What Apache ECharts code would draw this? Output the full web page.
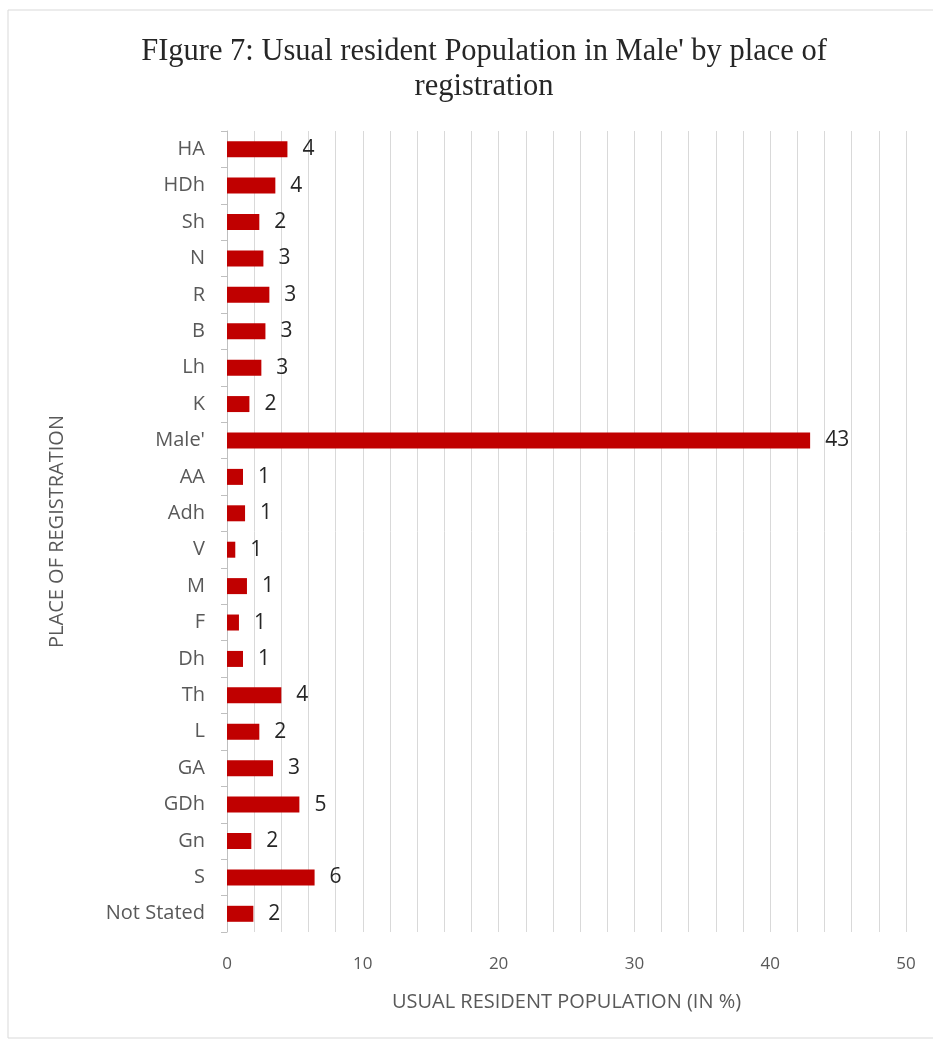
<!DOCTYPE html>
<html>
<head>
<meta charset="utf-8">
<script src="https://cdn.jsdelivr.net/npm/echarts@6/dist/echarts.min.js"></script>
<style>html,body{margin:0;padding:0;background:#fff}#c{width:933px;height:1041px}</style>
</head>
<body>
<div id="c"></div>
<script>
const categories = ["HA","HDh","Sh","N","R","B","Lh","K","Male'","AA","Adh","V","M","F","Dh","Th","L","GA","GDh","Gn","S","Not Stated"];
const values = [4.45,3.56,2.38,2.68,3.12,2.83,2.53,1.65,42.94,1.18,1.33,0.61,1.47,0.88,1.18,4.0,2.38,3.39,5.33,1.79,6.45,1.94];
const xTicks = [0,10,20,30,40,50];

const chart = echarts.init(document.getElementById('c'));
chart.setOption({
  animation:false,
  backgroundColor:'#fff',
  graphic:[{type:'rect',shape:{x:8,y:10,width:930,height:1028},style:{fill:'none',stroke:'#d9d9d9',lineWidth:1},silent:true}],
  title:{
    text:"FIgure 7: Usual resident Population in Male' by place of\nregistration",
    left:479, top:29, textAlign:'center',
    textStyle:{fontFamily:'Liberation Serif',fontSize:30.5,fontWeight:'normal',color:'#262626',lineHeight:35}
  },
  grid:{left:227,right:27,top:131,bottom:109,containLabel:false},
  xAxis:{
    type:'value',min:xTicks[0],max:xTicks[xTicks.length-1],interval:2,
    axisLine:{show:false},axisTick:{show:false},
    splitLine:{show:true,lineStyle:{color:'#d9d9d9',width:1}},
    axisLabel:{color:'#595959',fontSize:17,fontFamily:'Open Sans',margin:24,
      formatter:v=>xTicks.indexOf(v)>=0?String(v):''},
    name:'USUAL RESIDENT POPULATION (IN %)',nameLocation:'middle',nameGap:60,
    nameTextStyle:{color:'#595959',fontSize:20,fontFamily:'Open Sans'}
  },
  yAxis:{
    type:'category',data:categories,inverse:true,
    axisLine:{show:true,lineStyle:{color:'#bfbfbf'}},
    axisTick:{show:true,length:6,lineStyle:{color:'#bfbfbf'}},
    axisLabel:{color:'#595959',fontSize:20,fontFamily:'Open Sans',margin:22},
    name:'PLACE OF REGISTRATION',nameLocation:'middle',nameGap:160,nameRotate:90,
    nameTextStyle:{color:'#595959',fontSize:20,fontFamily:'Open Sans'}
  },
  series:[{
    type:'bar',data:values,barWidth:16,
    itemStyle:{color:'#c00000'},
    label:{show:true,position:'right',distance:15,color:'#262626',fontSize:21,fontFamily:'Open Sans',
      formatter:p=>Math.round(p.value)}
  }]
});
</script>
</body>
</html>
